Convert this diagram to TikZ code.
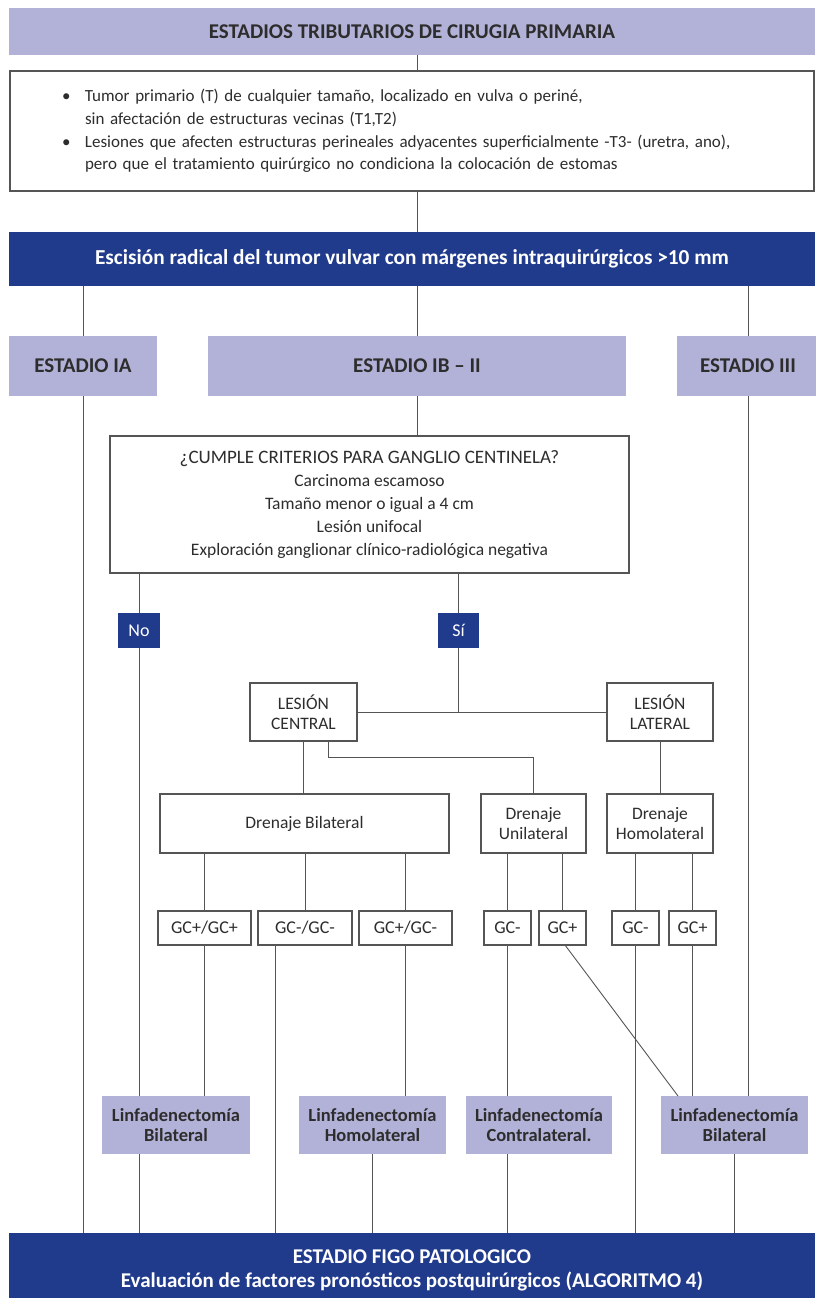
\documentclass[tikz,border=0pt]{standalone}
\usepackage{fontspec}
\setmainfont{Carlito}
\definecolor{lav}{RGB}{178,178,216}
\definecolor{dkb}{RGB}{32,58,140}
\definecolor{ln}{RGB}{85,85,85}
\definecolor{tx}{RGB}{45,45,45}
\begin{document}
\begin{tikzpicture}[x=1pt,y=-1pt,
  base/.style={inner sep=0pt, outer sep=0pt, align=center, text=tx, font=\fontsize{17.5}{20}\selectfont},
  wbox/.style={base, draw=ln, line width=1.3pt, fill=white},
  lbox/.style={base, fill=lav, font=\bfseries\fontsize{21}{24}\selectfont},
  linf/.style={base, fill=lav, font=\bfseries\fontsize{18.5}{20}\selectfont},
  dbox/.style={base, fill=dkb, text=white, font=\bfseries\fontsize{21.3}{24}\selectfont},
  yn/.style={base, fill=dkb, text=white, font=\fontsize{18}{20}\selectfont},
  gcbox/.style={wbox, minimum height=34pt, font=\fontsize{18}{20}\selectfont},
  conn/.style={draw=ln, line width=0.9pt}]
\useasboundingbox (0,0) rectangle (815,1298);
\fill[white] (0,0) rectangle (815,1298);
% header blocks
\node[lbox, minimum width=806pt, minimum height=47pt] (top) at (412,31.5) {ESTADIOS TRIBUTARIOS DE CIRUGIA PRIMARIA};
\node[wbox, text width=700pt, inner xsep=52pt, minimum height=120pt, align=left, font=\fontsize{17}{22.7}\selectfont] (crit) at (412,131)
 {\makebox[23pt][l]{\textbullet}Tumor primario (T) de cualquier tamaño, localizado en vulva o periné,\\
  \hspace*{23pt}sin afectación de estructuras vecinas (T1,T2)\\
  \makebox[23pt][l]{\textbullet}Lesiones que afecten estructuras perineales adyacentes superficialmente -T3- (uretra, ano),\\
  \hspace*{23pt}pero que el tratamiento quirúrgico no condiciona la colocación de estomas};
\node[dbox, minimum width=806pt, minimum height=54pt] (esc) at (412,259) {Escisión radical del tumor vulvar con márgenes intraquirúrgicos >10 mm};
% stages
\node[lbox, minimum width=148pt, minimum height=60pt] (IA) at (83,366) {ESTADIO IA};
\node[lbox, minimum width=418pt, minimum height=60pt] (IB) at (417,366) {ESTADIO IB – II};
\node[lbox, minimum width=142pt, minimum height=60pt] (III) at (748,366) {ESTADIO III};
% question
\node[wbox, minimum width=519pt, minimum height=137pt, font=\fontsize{17.5}{23}\selectfont] (q) at (369.5,504.5)
 {{\fontsize{19}{23}\selectfont ¿CUMPLE CRITERIOS PARA GANGLIO CENTINELA?}\\ Carcinoma escamoso\\ Tamaño menor o igual a 4 cm\\ Lesión unifocal\\ Exploración ganglionar clínico-radiológica negativa};
\node[yn, minimum width=42pt, minimum height=35pt] (No) at (139,630.5) {No};
\node[yn, minimum width=41pt, minimum height=35pt] (Si) at (458.5,630.5) {Sí};
% lesions
\node[wbox, minimum width=107pt, minimum height=58pt] (central) at (303.5,712) {LESIÓN\\CENTRAL};
\node[wbox, minimum width=106pt, minimum height=58pt] (lateral) at (660,712) {LESIÓN\\LATERAL};
% drainage
\node[wbox, minimum width=289pt, minimum height=59pt] (dbil) at (304.5,823.5) {Drenaje Bilateral};
\node[wbox, minimum width=105pt, minimum height=59pt] (duni) at (533.5,823.5) {Drenaje\\Unilateral};
\node[wbox, minimum width=106pt, minimum height=59pt] (dhomo) at (660,823.5) {Drenaje\\Homolateral};
% GC boxes
\node[gcbox, minimum width=93pt] (g1) at (204.5,928) {GC+/GC+};
\node[gcbox, minimum width=94pt] (g2) at (305,928) {GC-/GC-};
\node[gcbox, minimum width=93pt] (g3) at (405.5,928) {GC+/GC-};
\node[gcbox, minimum width=47pt] (g4) at (507.5,928) {GC-};
\node[gcbox, minimum width=47pt] (g5) at (562.5,928) {GC+};
\node[gcbox, minimum width=47pt] (g6) at (635.5,928) {GC-};
\node[gcbox, minimum width=47pt] (g7) at (692.5,928) {GC+};
% lymphadenectomy
\node[linf, minimum width=148pt, minimum height=58pt] (L1) at (176,1125) {Linfadenectomía\\Bilateral};
\node[linf, minimum width=147pt, minimum height=58pt] (L2) at (372.5,1125) {Linfadenectomía\\Homolateral};
\node[linf, minimum width=146pt, minimum height=58pt] (L3) at (539,1125) {Linfadenectomía\\Contralateral.};
\node[linf, minimum width=147pt, minimum height=58pt] (L4) at (734.5,1125) {Linfadenectomía\\Bilateral};
% bottom
\node[dbox, minimum width=806pt, minimum height=74pt, font=\bfseries\fontsize{21}{24}\selectfont] (bot) at (412,1270)
 {ESTADIO FIGO PATOLOGICO\\Evaluación de factores pronósticos postquirúrgicos (ALGORITMO 4)};
% helper coordinates
\coordinate (cx) at (417,0);
\coordinate (k1) at (328,757);
\coordinate (k2) at (275,0);
\coordinate (k3) at (565,0);
\coordinate (k4) at (678,0);
% connectors
\draw[conn] (top.south -| cx) -- (crit.north -| cx);
\draw[conn] (crit.south -| cx) -- (esc.north -| cx);
\draw[conn] (esc.south -| IA) -- (IA.north);
\draw[conn] (esc.south -| IB) -- (IB.north);
\draw[conn] (esc.south -| III) -- (III.north);
\draw[conn] (IA.south) -- (IA.south |- bot.north);
\draw[conn] (IB.south) -- (IB.south |- q.north);
\draw[conn] (III.south) -- (III.south |- L4.north);
\draw[conn] (q.south -| No) -- (No.north);
\draw[conn] (q.south -| Si) -- (Si.north);
\draw[conn] (No.south) -- (No.south |- L1.north);
\draw[conn] (L1.south -| No) -- (bot.north -| No);
\draw[conn] (Si.south) -- (Si.south |- central.east);
\draw[conn] (central.east) -- (lateral.west);
\draw[conn] (central.south) -- (central.south |- dbil.north);
\draw[conn] (central.south -| k1) -- (k1) -- (k1 -| duni) -- (duni.north);
\draw[conn] (lateral.south) -- (dhomo.north);
\draw[conn] (dbil.south -| g1) -- (g1.north);
\draw[conn] (dbil.south -| g2) -- (g2.north);
\draw[conn] (dbil.south -| g3) -- (g3.north);
\draw[conn] (duni.south -| g4) -- (g4.north);
\draw[conn] (duni.south -| g5) -- (g5.north);
\draw[conn] (dhomo.south -| g6) -- (g6.north);
\draw[conn] (dhomo.south -| g7) -- (g7.north);
\draw[conn] (g1.south) -- (g1.south |- L1.north);
\draw[conn] (g2.south -| k2) -- (bot.north -| k2);
\draw[conn] (g3.south) -- (g3.south |- L2.north);
\draw[conn] (L2.south) -- (L2.south |- bot.north);
\draw[conn] (g4.south) -- (g4.south |- L3.north);
\draw[conn] (L3.south -| g4) -- (bot.north -| g4);
\draw[conn] (g5.south -| k3) -- (L4.north -| k4);
\draw[conn] (g6.south) -- (g6.south |- bot.north);
\draw[conn] (g7.south) -- (g7.south |- L4.north);
\draw[conn] (L4.south) -- (L4.south |- bot.north);
\end{tikzpicture}
\end{document}
